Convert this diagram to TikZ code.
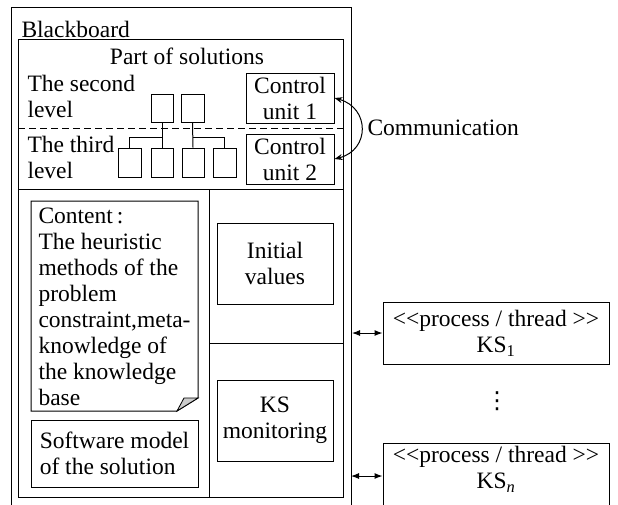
\documentclass[tikz,border=0pt]{standalone}
\usepackage{fontspec}
\setmainfont[Ligatures=NoCommon]{Liberation Serif}
\newfontfamily\sym{DejaVu Sans}
\usetikzlibrary{arrows.meta}
\begin{document}
\begin{tikzpicture}[x=1pt,y=-1pt, line width=1pt,
  font=\fontsize{23.5}{26}\selectfont,
  box/.style={draw, inner sep=0pt, align=center},
  lbl/.style={inner sep=0pt, align=left},
  sq/.style={draw, inner sep=0pt, minimum width=23, minimum height=28},
  dblarrow/.style={{Latex[length=8pt,width=6pt]}-{Latex[length=8pt,width=6pt]}},
  commarrow/.style={{Stealth[length=8pt,width=6pt]}-{Stealth[length=8pt,width=6pt]}}]
\useasboundingbox (0,0) rectangle (618,504);
\clip (0,0) rectangle (618,504);
% outer blackboard
\node[draw, inner sep=0pt, minimum width=340, minimum height=540, anchor=north west] (bb) at (11,7) {};
\node[anchor=base west, inner sep=0pt] (bbl) at (21,37) {Blackboard};
% part of solutions
\node[draw, inner sep=0pt, minimum width=325, minimum height=458, anchor=north west] (sol) at (18,39) {};
\node[anchor=base, inner sep=0pt] (soll) at (187,64) {Part of solutions};
\node[lbl, anchor=north west] (lv2) at (27,75) {The second\\level};
\node[lbl, anchor=north west] (lv3) at (27,136) {The third\\level};
\node[box, minimum width=88, minimum height=50] (cu1) at (290,98) {Control\\unit 1};
\node[box, minimum width=88, minimum height=50] (cu2) at (290,159) {Control\\unit 2};
\draw[dash pattern=on 7pt off 4pt] (sol.west |- 0,128) -- (sol.east |- 0,128);
% tree
\node[sq, minimum width=22] (t1) at (162,108.5) {};
\node[sq] (t2) at (192.5,108.5) {};
\node[sq, minimum height=29] (b1) at (129.5,162.5) {};
\node[sq, minimum height=29, minimum width=22] (b2) at (162,162.5) {};
\node[sq, minimum height=29, minimum width=22] (b3) at (193,162.5) {};
\node[sq, minimum height=29] (b4) at (224.5,162.5) {};
\coordinate (j1) at (162,137);
\coordinate (j2) at (193,137);
\draw (t1.south) -- (b2.north);
\draw (b1.north) |- (j1);
\draw (t2.south) -- (b3.north);
\draw (b4.north) |- (j2);
% communication
\draw[commarrow] (cu1.east) .. controls (370,108) and (370,150) .. (cu2.east);
\node[anchor=base west, inner sep=0pt] (comm) at (367,135) {Communication};
% dividers
\coordinate (d1) at (18,189);
\draw (d1) -- (d1 -| sol.east);
\coordinate (v1) at (209,189);
\draw (v1) -- (v1 |- sol.south);
\coordinate (h1) at (209,343);
\draw (h1) -- (h1 -| sol.east);
% note
\draw (31,201) -- (198,201) -- (198,398) -- (177,411) -- (31,411) -- cycle;
\filldraw[fill=gray!40, line width=0.8pt] (198,398) -- (177,411) -- (184,398) -- cycle;
\node[lbl, anchor=north west] (content) at (38,207)
  {Content\,:\\The heuristic\\methods of the\\problem\\constraint,meta-\\knowledge of\\the knowledge\\base};
\node[box, align=left, minimum width=167, minimum height=67] (soft) at (114.5,453.5) {Software model\\of the solution};
\node[box, minimum width=116, minimum height=81] (init) at (275,263.5) {Initial\\values};
\node[box, minimum width=116, minimum height=81] (mon) at (275,420.5) {KS\\monitoring};
% knowledge sources
\node[box, minimum width=226, minimum height=62] (ks1) at (496,333) {{<}{<}process / thread {>}{>}\\KS\textsubscript{1}};
\draw[dblarrow] (ks1.west -| bb.east) -- (ks1.west);
\node[inner sep=0pt] (dots) at (497,401) {\sym ⋮};
\node[draw, inner sep=0pt, minimum width=226, minimum height=90, anchor=north] (ksn) at (496,443) {};
\node[inner sep=0pt, align=center, anchor=north] (ksnl) at (496,446) {{<}{<}process / thread {>}{>}\\KS\textsubscript{\textit{n}}};
\coordinate (an) at (351,476);
\draw[dblarrow] (an) -- (an -| ksn.west);
\end{tikzpicture}
\end{document}
